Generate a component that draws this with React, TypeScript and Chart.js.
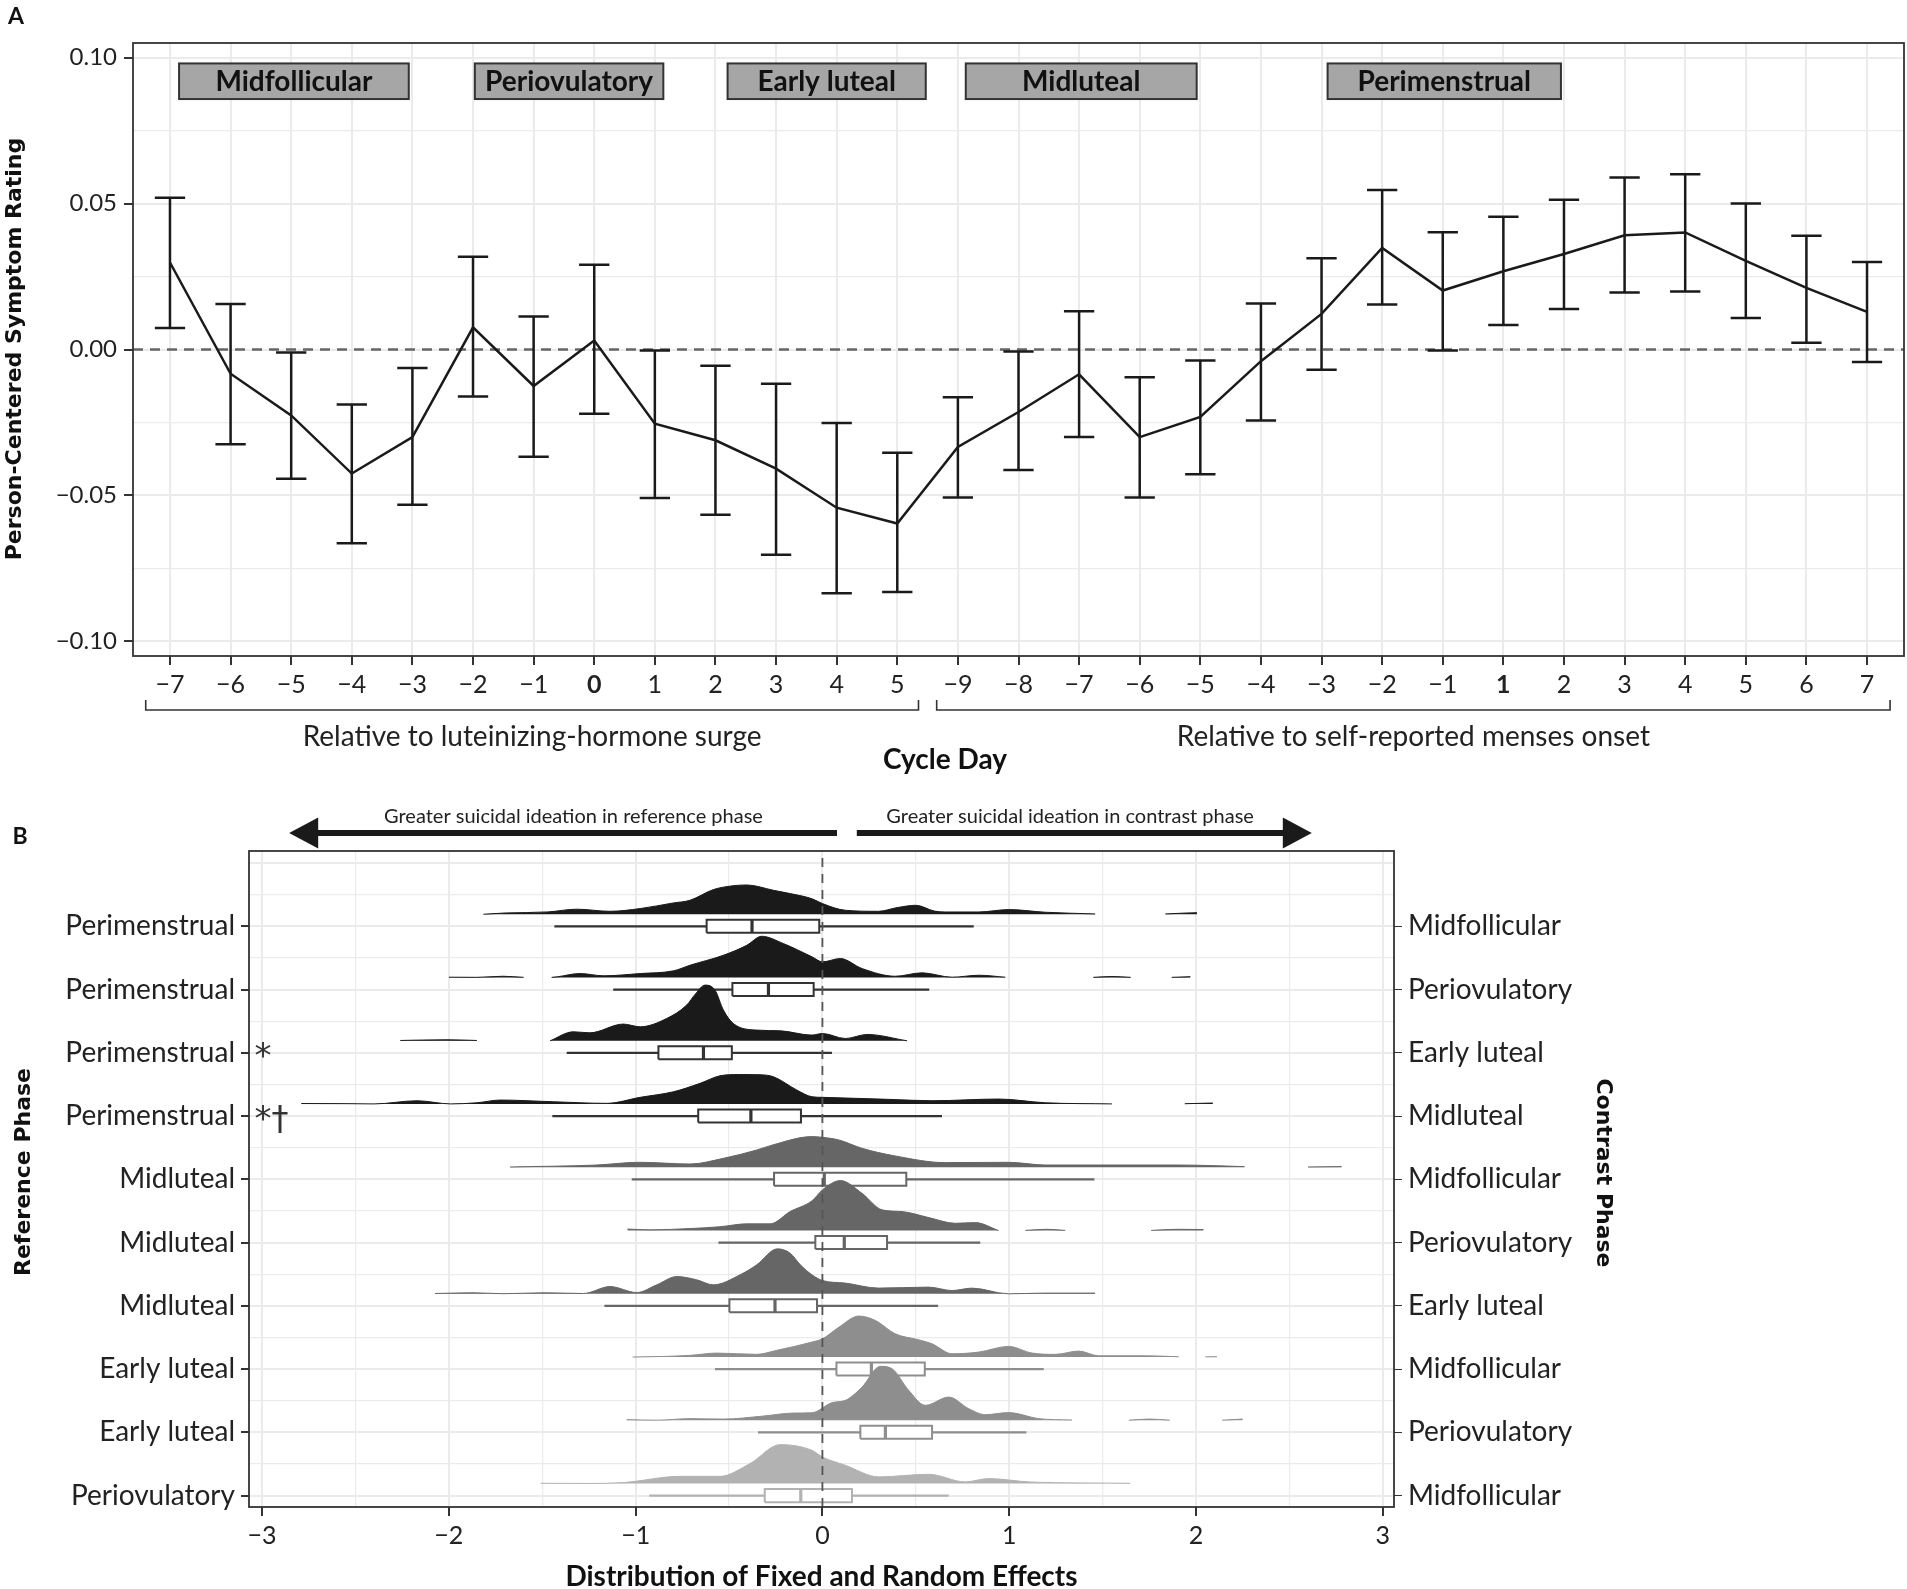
import React, { useEffect, useRef } from "react";
import { Chart, registerables } from "chart.js";

Chart.register(...registerables);

// ---------------- Panel A data ----------------
const cycleDayLabels = ["−7", "−6", "−5", "−4", "−3", "−2", "−1", "0", "1", "2", "3", "4", "5", "−9", "−8", "−7", "−6", "−5", "−4", "−3", "−2", "−1", "1", "2", "3", "4", "5", "6", "7"];
const boldDayIndex = [7, 22];
const symptomMean = [0.0298, -0.0083, -0.0226, -0.0425, -0.03, 0.0076, -0.0125, 0.0031, -0.0254, -0.0311, -0.0408, -0.0542, -0.0596, -0.0334, -0.0214, -0.0085, -0.03, -0.0231, -0.004, 0.0122, 0.0348, 0.0202, 0.0268, 0.0327, 0.0391, 0.0401, 0.0304, 0.0211, 0.0129];
const symptomLower = [0.0074, -0.0325, -0.0443, -0.0664, -0.0532, -0.0161, -0.0367, -0.022, -0.0509, -0.0566, -0.0703, -0.0835, -0.0831, -0.0507, -0.0413, -0.03, -0.0507, -0.0427, -0.0243, -0.0069, 0.0154, -0.0003, 0.0084, 0.0139, 0.0195, 0.0199, 0.0108, 0.0023, -0.0043];
const symptomUpper = [0.052, 0.0156, -0.001, -0.0188, -0.0063, 0.0318, 0.0113, 0.029, -0.0003, -0.0056, -0.0117, -0.0252, -0.0354, -0.0164, -0.0007, 0.0131, -0.0095, -0.0038, 0.0158, 0.0313, 0.0546, 0.0402, 0.0455, 0.0513, 0.0589, 0.06, 0.05, 0.039, 0.03];
const yTicksA = [-0.1, -0.075, -0.05, -0.025, 0, 0.025, 0.05, 0.075, 0.1];
const phaseNames = ["Midfollicular", "Periovulatory", "Early luteal", "Midluteal", "Perimenstrual"];
const phaseStart = [0.15, 5.03, 9.2, 13.13, 19.1];
const phaseEnd = [3.94, 8.14, 12.47, 16.94, 22.95];
const phaseTop = 0.098;
const phaseBottom = 0.0858;
const groupNames = ["Relative to luteinizing-hormone surge", "Relative to self-reported menses onset"];
const groupStart = [-0.4, 12.65];
const groupEnd = [12.35, 28.38];

// ---------------- Panel B data ----------------
const referencePhase = ["Perimenstrual", "Perimenstrual", "Perimenstrual", "Perimenstrual", "Midluteal", "Midluteal", "Midluteal", "Early luteal", "Early luteal", "Periovulatory"];
const contrastPhase = ["Midfollicular", "Periovulatory", "Early luteal", "Midluteal", "Midfollicular", "Periovulatory", "Early luteal", "Midfollicular", "Periovulatory", "Midfollicular"];
const significance = ["", "", "*", "*†", "", "", "", "", "", ""];
const phaseGroup = [0, 0, 0, 0, 1, 1, 1, 2, 2, 3];
const xTicksB = [-3, -2.5, -2, -1.5, -1, -0.5, 0, 0.5, 1, 1.5, 2, 2.5, 3];
const yTicksB = [1, 1.5, 2, 2.5, 3, 3.5, 4, 4.5, 5, 5.5, 6, 6.5, 7, 7.5, 8, 8.5, 9, 9.5, 10, 10.5, 11];

const whiskerLow = [-1.435, -1.12, -1.369, -1.446, -1.021, -0.557, -1.167, -0.575, -0.345, -0.927];
const boxQ1 = [-0.62, -0.482, -0.878, -0.665, -0.259, -0.038, -0.498, 0.075, 0.203, -0.309];
const boxMedian = [-0.377, -0.289, -0.637, -0.383, 0.01, 0.117, -0.254, 0.262, 0.337, -0.116];
const boxQ3 = [-0.017, -0.047, -0.485, -0.115, 0.449, 0.346, -0.029, 0.548, 0.587, 0.158];
const whiskerHigh = [0.81, 0.572, 0.051, 0.64, 1.456, 0.845, 0.619, 1.185, 1.092, 0.676];

// density curves: [effect, height in row units]; null marks a gap
const density1 = [[-1.815, 0], [-1.7, 0.02], [-1.47, 0.037], [-1.315, 0.08], [-1.137, 0.047], [-0.976, 0.09], [-0.798, 0.179], [-0.709, 0.221], [-0.584, 0.39], [-0.48, 0.45], [-0.405, 0.463], [-0.262, 0.379], [-0.173, 0.327], [-0.056, 0.245], [0, 0.169], [0.123, 0.063], [0.3, 0.047], [0.4, 0.105], [0.5, 0.142], [0.6, 0.05], [0.658, 0.036], [0.837, 0.036], [0.997, 0.074], [1.193, 0.032], [1.46, 0.005], [1.6, null], [1.836, 0.005], [1.95, 0.02], [2.005, 0.025]];
const density2 = [[-2.0, 0.005], [-1.85, 0.003], [-1.71, 0.02], [-1.6, 0.003], [-1.57, null], [-1.45, 0.003], [-1.42, 0.011], [-1.3, 0.063], [-1.17, 0.027], [-0.976, 0.063], [-0.797, 0.106], [-0.709, 0.194], [-0.53, 0.352], [-0.405, 0.51], [-0.325, 0.652], [-0.209, 0.537], [-0.056, 0.327], [0, 0.248], [0.096, 0.3], [0.212, 0.142], [0.39, 0.02], [0.533, 0.074], [0.694, 0.005], [0.837, 0.036], [0.979, 0.005], [1.2, null], [1.45, 0.003], [1.55, 0.016], [1.65, 0.003], [1.75, null], [1.87, 0.003], [1.97, 0.013]];
const density3 = [[-2.26, 0.005], [-2.01, 0.016], [-1.85, 0.005], [-1.7, null], [-1.458, 0], [-1.334, 0.142], [-1.245, 0.126], [-1.066, 0.264], [-0.976, 0.221], [-0.834, 0.352], [-0.727, 0.564], [-0.68, 0.74], [-0.628, 0.88], [-0.575, 0.8], [-0.53, 0.485], [-0.477, 0.273], [-0.352, 0.169], [-0.227, 0.158], [-0.056, 0.09], [0, 0.115], [0.123, 0.036], [0.239, 0.1], [0.453, 0]];
const density4 = [[-2.79, 0.008], [-2.55, 0.006], [-2.4, 0.002], [-2.17, 0.052], [-1.99, 0.002], [-1.85, 0.02], [-1.724, 0.063], [-1.44, 0.036], [-1.155, 0.011], [-0.976, 0.106], [-0.798, 0.194], [-0.655, 0.327], [-0.548, 0.447], [-0.45, 0.466], [-0.334, 0.463], [-0.262, 0.431], [-0.137, 0.221], [-0.056, 0.115], [0, 0.106], [0.355, 0.074], [0.587, 0.052], [0.944, 0.079], [1.193, 0.02], [1.55, 0.002], [1.7, null], [1.94, 0.005], [2.09, 0.016]];
const density5 = [[-1.672, 0.005], [-1.21, 0.036], [-0.98, 0.079], [-0.709, 0.052], [-0.53, 0.142], [-0.352, 0.273], [-0.27, 0.35], [-0.056, 0.485], [0, 0.474], [0.089, 0.431], [0.212, 0.3], [0.39, 0.179], [0.658, 0.074], [0.997, 0.079], [1.193, 0.036], [1.907, 0.036], [2.26, 0.011], [2.4, null], [2.6, 0.005], [2.78, 0.011]];
const density6 = [[-1.044, 0.024], [-0.922, 0.011], [-0.708, 0.032], [-0.55, 0.06], [-0.405, 0.106], [-0.28, 0.106], [-0.173, 0.3], [-0.056, 0.47], [0, 0.643], [0.096, 0.79], [0.212, 0.589], [0.319, 0.327], [0.426, 0.3], [0.569, 0.205], [0.712, 0.115], [0.819, 0.126], [0.943, 0], [1.0, null], [1.086, 0.002], [1.2, 0.02], [1.3, 0.002], [1.5, null], [1.76, 0.002], [1.9, 0.02], [2.04, 0.016]];
const density7 = [[-2.074, 0.005], [-1.87, 0.016], [-1.71, 0.002], [-1.49, 0.016], [-1.28, 0.005], [-1.137, 0.115], [-0.994, 0.02], [-0.887, 0.142], [-0.78, 0.273], [-0.673, 0.221], [-0.584, 0.142], [-0.441, 0.3], [-0.352, 0.458], [-0.241, 0.711], [-0.173, 0.643], [-0.118, 0.458], [-0.056, 0.3], [0, 0.21], [0.123, 0.169], [0.301, 0.09], [0.569, 0.106], [0.694, 0.052], [0.8, 0.09], [0.997, 0], [1.19, 0.011], [1.46, 0.011]];
const density8 = [[-1.016, 0], [-0.85, 0.01], [-0.708, 0.027], [-0.566, 0.063], [-0.352, 0.043], [-0.245, 0.106], [-0.056, 0.237], [0, 0.289], [0.089, 0.474], [0.194, 0.648], [0.283, 0.58], [0.39, 0.368], [0.515, 0.273], [0.587, 0.21], [0.694, 0.052], [0.837, 0.079], [0.997, 0.169], [1.122, 0.063], [1.247, 0.043], [1.372, 0.095], [1.479, 0.02], [1.729, 0.02], [1.907, 0.005], [2.0, null], [2.05, 0.003], [2.112, 0.005]];
const density9 = [[-1.048, 0.011], [-0.887, 0.002], [-0.709, 0.027], [-0.53, 0.02], [-0.316, 0.068], [-0.155, 0.115], [-0.056, 0.12], [0.052, 0.28], [0.123, 0.316], [0.212, 0.526], [0.31, 0.853], [0.372, 0.817], [0.462, 0.474], [0.551, 0.237], [0.676, 0.368], [0.783, 0.185], [0.872, 0.09], [0.997, 0.122], [1.158, 0.027], [1.336, 0.005], [1.5, null], [1.64, 0.002], [1.75, 0.02], [1.86, 0.002], [2.0, null], [2.14, 0.002], [2.25, 0.02]];
const density10 = [[-1.508, 0.005], [-1.24, 0.002], [-1.066, 0.016], [-0.762, 0.115], [-0.548, 0.115], [-0.388, 0.316], [-0.227, 0.616], [-0.056, 0.526], [0, 0.42], [0.123, 0.289], [0.301, 0.106], [0.569, 0.147], [0.765, 0.027], [0.89, 0.079], [1.104, 0.027], [1.372, 0.011], [1.648, 0.005]];
const densities = [density1, density2, density3, density4, density5, density6, density7, density8, density9, density10];

// ---------------- styles ----------------
const SANS = 'Lato, "Noto Sans", sans-serif';
const WIDE = '"DejaVu Sans", sans-serif';
const ridgePalette = ["#1a1a1a", "#666666", "#8e8e8e", "#b2b2b2"];
const boxPalette = ["#333333", "#666666", "#8e8e8e", "#b2b2b2"];
const GRID = "#ebebeb";
const INK = "#222222";
const RIDGE_LIFT = 0.19;
const BOX_HALF = 0.103;

const fmtMinus = (s: string) => s.replace("-", "−");

function buildChartA(canvas: HTMLCanvasElement) {
  const errorBars: any[] = [];
  symptomMean.forEach((_, i) => {
    const lo = symptomLower[i];
    const hi = symptomUpper[i];
    errorBars.push({ x: i, y: lo }, { x: i, y: hi }, { x: i, y: null });
    errorBars.push({ x: i - 0.25, y: hi }, { x: i + 0.25, y: hi }, { x: i, y: null });
    errorBars.push({ x: i - 0.25, y: lo }, { x: i + 0.25, y: lo }, { x: i, y: null });
  });
  const meanPts = symptomMean.map((v, i) => ({ x: i, y: v }));

  const pluginA = {
    id: "panelA",
    beforeDatasetsDraw(chart: any) {
      const { ctx, scales } = chart;
      const x = scales.x;
      const y = scales.y;
      ctx.save();
      phaseNames.forEach((name, i) => {
        const x0 = x.getPixelForValue(phaseStart[i]);
        const x1 = x.getPixelForValue(phaseEnd[i]);
        const y0 = y.getPixelForValue(phaseTop);
        const y1 = y.getPixelForValue(phaseBottom);
        ctx.fillStyle = "#a6a6a6";
        ctx.fillRect(x0, y0, x1 - x0, y1 - y0);
        ctx.strokeStyle = "#333";
        ctx.lineWidth = 2;
        ctx.strokeRect(x0, y0, x1 - x0, y1 - y0);
        ctx.fillStyle = "#111";
        ctx.font = `bold 28px ${SANS}`;
        ctx.textAlign = "center";
        ctx.textBaseline = "middle";
        ctx.fillText(name, (x0 + x1) / 2, (y0 + y1) / 2 + 1);
      });
      ctx.restore();
    },
    afterDatasetsDraw(chart: any) {
      const { ctx, chartArea } = chart;
      ctx.save();
      ctx.strokeStyle = "#333";
      ctx.lineWidth = 1.8;
      ctx.strokeRect(chartArea.left, chartArea.top, chartArea.right - chartArea.left, chartArea.bottom - chartArea.top);
      ctx.restore();
    },
    afterDraw(chart: any) {
      const { ctx, scales } = chart;
      const x = scales.x;
      ctx.save();
      ctx.strokeStyle = "#333";
      ctx.lineWidth = 1.6;
      ctx.fillStyle = INK;
      ctx.font = `28px ${SANS}`;
      ctx.textAlign = "center";
      ctx.textBaseline = "middle";
      groupNames.forEach((g, i) => {
        const x0 = x.getPixelForValue(groupStart[i]);
        const x1 = x.getPixelForValue(groupEnd[i]);
        ctx.beginPath();
        ctx.moveTo(x0, 700);
        ctx.lineTo(x0, 710);
        ctx.lineTo(x1, 710);
        ctx.lineTo(x1, 700);
        ctx.stroke();
        ctx.fillText(g, (x0 + x1) / 2, 737);
      });
      ctx.fillStyle = "#111";
      ctx.font = `bold 28px ${SANS}`;
      ctx.fillText("Cycle Day", 945, 760);
      ctx.font = `bold 23px ${SANS}`;
      ctx.fillText("A", 16, 17);
      ctx.translate(15, 349);
      ctx.rotate(-Math.PI / 2);
      ctx.font = `bold 22px ${WIDE}`;
      ctx.fillText("Person-Centered Symptom Rating", 0, 0);
      ctx.restore();
    },
  };

  return new Chart(canvas, {
    type: "line",
    data: {
      datasets: [
        { data: [{ x: -0.61, y: 0 }, { x: 28.61, y: 0 }], borderColor: "#666", borderWidth: 2.5, borderDash: [10, 7], pointRadius: 0, order: 3 } as any,
        { data: errorBars, borderColor: "#1a1a1a", borderWidth: 2.5, pointRadius: 0, spanGaps: false, order: 2 },
        { data: meanPts, borderColor: "#1a1a1a", borderWidth: 2.5, pointRadius: 0, order: 1 },
      ],
    },
    options: {
      responsive: false,
      animation: false,
      events: [],
      layout: { padding: { top: 43, right: 3, left: 0, bottom: 0 } },
      plugins: { legend: { display: false }, tooltip: { enabled: false } },
      scales: {
        x: {
          type: "linear",
          min: -0.61,
          max: 28.61,
          afterBuildTicks: (s: any) => {
            s.ticks = cycleDayLabels.map((_, i) => ({ value: i }));
          },
          afterFit: (s: any) => {
            s.height = 124;
          },
          ticks: {
            autoSkip: false,
            maxRotation: 0,
            padding: 5,
            color: INK,
            callback: (v: any) => cycleDayLabels[v],
            font: (c: any) => ({ family: SANS, size: 25, weight: boldDayIndex.includes(c.index) ? "bold" : "normal" }),
          },
          grid: { color: GRID, lineWidth: 2, tickColor: "#333", tickLength: 9 },
          border: { display: false },
        },
        y: {
          type: "linear",
          min: -0.105,
          max: 0.105,
          afterBuildTicks: (s: any) => {
            s.ticks = yTicksA.map((v) => ({ value: v }));
          },
          afterFit: (s: any) => {
            s.width = 133;
          },
          ticks: {
            autoSkip: false,
            padding: 7,
            color: INK,
            font: { family: SANS, size: 24 },
            callback: (v: any, i: number) => (i % 2 === 0 ? fmtMinus(Number(v).toFixed(2)) : ""),
          },
          grid: {
            color: GRID,
            lineWidth: (c: any) => (c.index % 2 === 0 ? 2 : 1.2),
            tickColor: (c: any) => (c.index % 2 === 0 ? "#333" : "rgba(0,0,0,0)"),
            tickLength: 9,
          },
          border: { display: false },
        },
      },
    } as any,
    plugins: [pluginA],
  });
}

function buildChartB(canvas: HTMLCanvasElement) {
  const datasets: any[] = [];
  let seq = 0;
  for (let r = 0; r < 10; r++) {
    const yc = 10 - r;
    const base = yc + RIDGE_LIFT;
    const fillColor = ridgePalette[phaseGroup[r]];
    const lineColor = boxPalette[phaseGroup[r]];
    datasets.push({
      data: densities[r].map(([x, h]: any) => ({ x, y: h === null ? null : base + h })),
      borderColor: fillColor,
      backgroundColor: fillColor,
      borderWidth: 1,
      pointRadius: 0,
      fill: { value: base },
      cubicInterpolationMode: "monotone",
      spanGaps: false,
      order: 1000 - seq++,
    });
    datasets.push({
      data: [
        { x: whiskerLow[r], y: yc },
        { x: boxQ1[r], y: yc },
        { x: boxQ1[r], y: null },
        { x: boxQ3[r], y: yc },
        { x: whiskerHigh[r], y: yc },
      ],
      borderColor: lineColor,
      borderWidth: 2.2,
      pointRadius: 0,
      fill: false,
      spanGaps: false,
      order: 1000 - seq++,
    });
    datasets.push({
      data: [
        { x: boxQ1[r], y: yc - BOX_HALF },
        { x: boxQ3[r], y: yc - BOX_HALF },
        { x: boxQ3[r], y: yc + BOX_HALF },
        { x: boxQ1[r], y: yc + BOX_HALF },
        { x: boxQ1[r], y: yc - BOX_HALF },
      ],
      borderColor: lineColor,
      backgroundColor: "#ffffff",
      borderWidth: 2,
      pointRadius: 0,
      fill: "shape",
      order: 1000 - seq++,
    });
    datasets.push({
      data: [
        { x: boxMedian[r], y: yc - BOX_HALF },
        { x: boxMedian[r], y: yc + BOX_HALF },
      ],
      borderColor: lineColor,
      borderWidth: 3.2,
      pointRadius: 0,
      fill: false,
      order: 1000 - seq++,
    });
  }
  datasets.push({
    data: [{ x: 0, y: 0.82 }, { x: 0, y: 11.19 }],
    borderColor: "#555",
    borderWidth: 1.8,
    borderDash: [9, 7],
    pointRadius: 0,
    fill: false,
    order: -1,
  });

  const pluginB = {
    id: "panelB",
    afterDatasetsDraw(chart: any) {
      const { ctx, chartArea, scales } = chart;
      ctx.save();
      ctx.strokeStyle = "#333";
      ctx.lineWidth = 1.8;
      ctx.strokeRect(chartArea.left, chartArea.top, chartArea.right - chartArea.left, chartArea.bottom - chartArea.top);
      ctx.fillStyle = "#333";
      ctx.font = `34px ${WIDE}`;
      ctx.textAlign = "left";
      ctx.textBaseline = "middle";
      significance.forEach((s, r) => {
        if (!s) return;
        ctx.fillText(s, scales.x.getPixelForValue(-3.04), scales.y.getPixelForValue(10 - r) + 5);
      });
      ctx.restore();
    },
    afterDraw(chart: any) {
      const { ctx, scales, chartArea } = chart;
      const x = scales.x;
      ctx.save();
      const ay = 53;
      const head = 29;
      const hh = 15.5;
      ctx.fillStyle = "#1a1a1a";
      // left arrow
      const lt = x.getPixelForValue(-2.855);
      const le = x.getPixelForValue(0.078);
      ctx.fillRect(lt + head - 1, ay - 3, le - lt - head + 1, 6);
      ctx.beginPath();
      ctx.moveTo(lt, ay);
      ctx.lineTo(lt + head, ay - hh);
      ctx.lineTo(lt + head, ay + hh);
      ctx.closePath();
      ctx.fill();
      // right arrow
      const rs = x.getPixelForValue(0.184);
      const rt = x.getPixelForValue(2.62);
      ctx.fillRect(rs, ay - 3, rt - head + 1 - rs, 6);
      ctx.beginPath();
      ctx.moveTo(rt, ay);
      ctx.lineTo(rt - head, ay - hh);
      ctx.lineTo(rt - head, ay + hh);
      ctx.closePath();
      ctx.fill();
      ctx.fillStyle = INK;
      ctx.font = `20px ${SANS}`;
      ctx.textAlign = "center";
      ctx.textBaseline = "middle";
      ctx.fillText("Greater suicidal ideation in reference phase", x.getPixelForValue(-1.333), 37);
      ctx.fillText("Greater suicidal ideation in contrast phase", x.getPixelForValue(1.326), 37);
      ctx.fillStyle = "#111";
      ctx.font = `bold 23px ${SANS}`;
      ctx.fillText("B", 20, 57);
      ctx.font = `bold 28px ${SANS}`;
      ctx.fillText("Distribution of Fixed and Random Effects", (chartArea.left + chartArea.right) / 2, 797);
      ctx.font = `bold 22px ${WIDE}`;
      ctx.save();
      ctx.translate(24, 392);
      ctx.rotate(-Math.PI / 2);
      ctx.fillText("Reference Phase", 0, 0);
      ctx.restore();
      ctx.save();
      ctx.translate(1603, 393);
      ctx.rotate(Math.PI / 2);
      ctx.fillText("Contrast Phase", 0, 0);
      ctx.restore();
      ctx.restore();
    },
  };

  const rowLabel = (labels: string[]) => (v: any, i: number) => {
    if (i % 2 !== 0) return "";
    const val = Math.round(Number(v));
    if (val < 1 || val > 10) return "";
    return labels[10 - val];
  };
  const rowTickColor = (c: any) => (c.index % 2 === 0 && c.index < 20 ? "#333" : "rgba(0,0,0,0)");

  return new Chart(canvas, {
    type: "line",
    data: { datasets },
    options: {
      responsive: false,
      animation: false,
      events: [],
      layout: { padding: { top: 71, right: 0, left: 0, bottom: 0 } },
      plugins: { legend: { display: false }, tooltip: { enabled: false } },
      scales: {
        x: {
          type: "linear",
          min: -3.07,
          max: 3.06,
          afterBuildTicks: (s: any) => {
            s.ticks = xTicksB.map((v) => ({ value: v }));
          },
          afterFit: (s: any) => {
            s.height = 82;
          },
          ticks: {
            autoSkip: false,
            maxRotation: 0,
            padding: 5,
            color: INK,
            font: { family: SANS, size: 25 },
            callback: (v: any, i: number) => (i % 2 === 0 ? fmtMinus(String(v)) : ""),
          },
          grid: {
            color: GRID,
            lineWidth: (c: any) => (c.index % 2 === 0 ? 2 : 1.2),
            tickColor: (c: any) => (c.index % 2 === 0 ? "#333" : "rgba(0,0,0,0)"),
            tickLength: 9,
          },
          border: { display: false },
        },
        y: {
          type: "linear",
          position: "left",
          min: 0.82,
          max: 11.19,
          afterBuildTicks: (s: any) => {
            s.ticks = yTicksB.map((v) => ({ value: v }));
          },
          afterFit: (s: any) => {
            s.width = 249;
          },
          ticks: { autoSkip: false, padding: 6, color: INK, font: { family: SANS, size: 28 }, callback: rowLabel(referencePhase) },
          grid: {
            color: GRID,
            lineWidth: (c: any) => (c.index % 2 === 0 ? 2 : 1.2),
            tickColor: rowTickColor,
            tickLength: 8,
          },
          border: { display: false },
        },
        y2: {
          type: "linear",
          position: "right",
          min: 0.82,
          max: 11.19,
          afterBuildTicks: (s: any) => {
            s.ticks = yTicksB.map((v) => ({ value: v }));
          },
          afterFit: (s: any) => {
            s.width = 513;
          },
          ticks: { autoSkip: false, padding: 6, color: INK, font: { family: SANS, size: 28 }, callback: rowLabel(contrastPhase) },
          grid: { drawOnChartArea: false, tickColor: rowTickColor, tickLength: 8 },
          border: { display: false },
        },
      },
    } as any,
    plugins: [pluginB],
  });
}

export default function App() {
  const refA = useRef<HTMLCanvasElement>(null);
  const refB = useRef<HTMLCanvasElement>(null);
  useEffect(() => {
    const a = buildChartA(refA.current as HTMLCanvasElement);
    const b = buildChartB(refB.current as HTMLCanvasElement);
    return () => {
      a.destroy();
      b.destroy();
    };
  }, []);
  return (
    <div style={{ position: "absolute", left: 0, top: 0, width: 1907, height: 1589, background: "#ffffff", overflow: "hidden" }}>
      <canvas ref={refA} width={1907} height={780} style={{ position: "absolute", left: 0, top: 0, width: 1907, height: 780 }} />
      <canvas ref={refB} width={1907} height={809} style={{ position: "absolute", left: 0, top: 780, width: 1907, height: 809 }} />
    </div>
  );
}
